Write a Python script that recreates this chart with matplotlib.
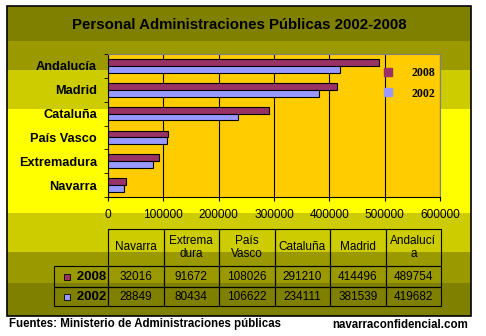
import matplotlib.pyplot as plt
import numpy as np
from matplotlib.patches import Rectangle
from matplotlib.lines import Line2D

plt.rcParams['font.family'] = ['Liberation Sans', 'DejaVu Sans']

regions = ["Navarra", "Extremadura", "País Vasco", "Cataluña", "Madrid", "Andalucía"]
header_labels = ["Navarra", "Extrema\ndura", "País\nVasco", "Cataluña", "Madrid", "Andalucí\na"]
v2008 = [32016, 91672, 108026, 291210, 414496, 489754]
v2002 = [28849, 80434, 106622, 234111, 381539, 419682]
years = ["2008", "2002"]
colors = ["#993366", "#9999ff"]

W, H = 486, 336
fig = plt.figure(figsize=(W / 100, H / 100), dpi=100)

# background bands (pixel coords)
bg = fig.add_axes([0, 0, 1, 1])
bg.set_xlim(0, W)
bg.set_ylim(H, 0)
bg.axis("off")
bands = [(6, 41, "#808000"), (41, 70, "#9a9a00"), (70, 109, "#cccc00"),
         (109, 213, "#ffff00"), (213, 252, "#cccc00"), (252, 283, "#9a9a00"),
         (283, 316, "#808000")]
for y0, y1, c in bands:
    bg.add_patch(Rectangle((7, y0), 464, y1 - y0, facecolor=c, edgecolor="none"))
bg.add_patch(Rectangle((7, 6), 464, 310, facecolor="none", edgecolor="black", lw=1.2))

bg.text(239, 25, "Personal Administraciones Públicas 2002-2008", ha="center",
        va="center", fontsize=10.8, fontweight="bold")
bg.text(9, 324, "Fuentes: Ministerio de Administraciones públicas", ha="left",
        va="center", fontsize=8.3, fontweight="bold")
bg.text(468, 325, "navarraconfidencial.com", ha="right", va="center",
        fontsize=8.3, fontweight="bold")

# bar chart
ax = fig.add_axes([108 / W, 1 - 197 / H, 332 / W, 143 / H])
ax.set_facecolor("#ffcc00")
y = np.arange(len(regions))
h = 0.29
ax.barh(y + h / 2, v2008, height=h, color=colors[0], edgecolor="black", lw=0.8, zorder=3)
ax.barh(y - h / 2, v2002, height=h, color=colors[1], edgecolor="black", lw=0.8, zorder=3)
ax.set_xlim(0, 600000)
ax.set_ylim(-0.5, len(regions) - 0.5)
ax.set_xticks(np.arange(0, 600001, 100000))
ax.set_xticklabels([str(v) for v in range(0, 600001, 100000)], fontsize=8.6)
ax.xaxis.grid(True, color="black", lw=0.8, zorder=1)
ax.set_yticks(y)
ax.set_yticklabels(regions, fontsize=9.2, fontweight="bold")
ax.set_yticks(np.arange(-0.5, len(regions)), minor=True)
ax.tick_params(axis="y", which="major", length=0, pad=8)
ax.tick_params(axis="y", which="minor", length=3, direction="out")
ax.tick_params(axis="x", length=3, direction="out", pad=6)
for s in ["top", "right"]:
    ax.spines[s].set_color("#808080")
for s in ["left", "bottom"]:
    ax.spines[s].set_color("black")

handles = [Line2D([], [], marker="s", ls="none", color=c, markersize=6) for c in colors]
leg = ax.legend(handles, years, loc="upper right", bbox_to_anchor=(1.0, 0.94),
                borderaxespad=0.0, frameon=False, handletextpad=1.0, labelspacing=0.7,
                prop={"weight": "bold", "size": 8.5, "family": "Liberation Serif"})

# data table
tax = fig.add_axes([54 / W, 1 - 306 / H, 387 / W, 77 / H])
tax.axis("off")
cell_text = [[""] + header_labels,
             ["      " + years[0]] + [str(v) for v in v2008],
             ["      " + years[1]] + [str(v) for v in v2002]]
tbl = tax.table(cellText=cell_text, cellLoc="center", bbox=[0, 0, 1, 1],
                colWidths=[54] + [55.5] * 6)
tbl.auto_set_font_size(False)
tbl.set_fontsize(8.5)
row_h = [37, 21, 19]
for (r, c), cell in tbl.get_celld().items():
    cell.set_facecolor("none")
    cell.set_edgecolor("black")
    cell.set_linewidth(0.8)
    cell.set_height(row_h[r])
    if r == 0 and c == 0:
        cell.visible_edges = ""
    if c == 0 and r > 0:
        cell.get_text().set_fontweight("bold")
        cell.get_text().set_fontsize(9.5)
for i, c in enumerate(colors):
    tax.add_patch(Rectangle((0.025, 0.34 - i * 0.26), 0.016, 0.075,
                            facecolor=c, edgecolor="black", lw=0.6,
                            transform=tax.transAxes))

fig.savefig("out.png", dpi=100)
